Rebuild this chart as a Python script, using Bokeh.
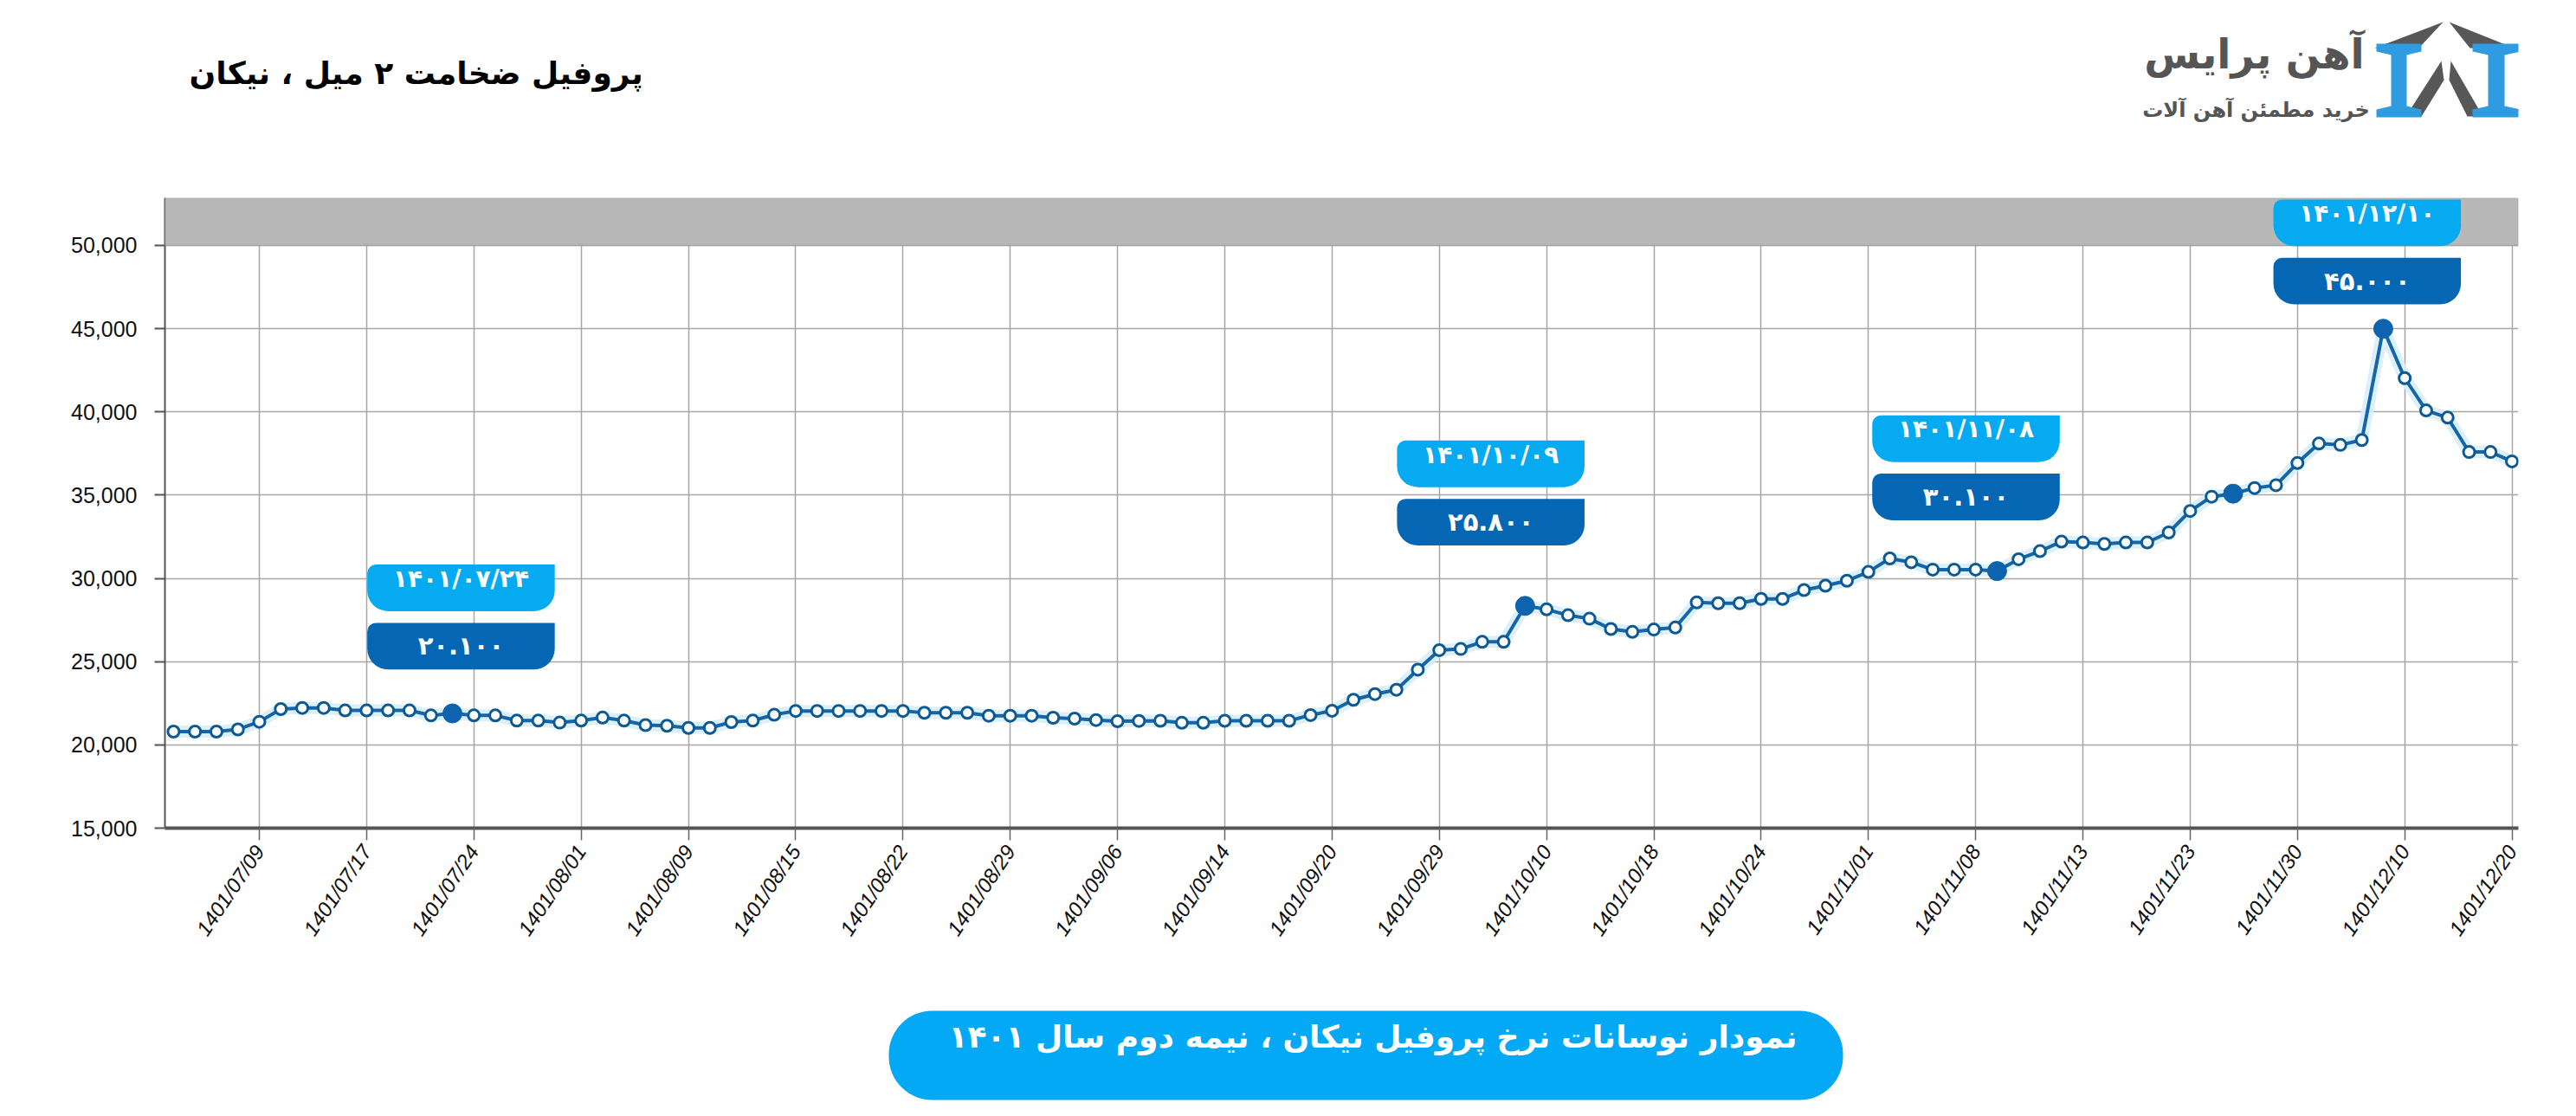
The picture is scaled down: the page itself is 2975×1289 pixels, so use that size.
import math
from bokeh.plotting import figure
from bokeh.models import ColumnDataSource, FixedTicker, Range1d, BoxAnnotation, NumeralTickFormatter
from bokeh.layouts import column
from bokeh.core.properties import value
from bokeh.embed import file_html
from bokeh.resources import INLINE

# ---------------- data ----------------
title_text = "پروفیل ضخامت ۲ میل ، نیکان"
brand_name = "آهن پرایس"
brand_tagline = "خرید مطمئن آهن آلات"
caption_text = "نمودار نوسانات نرخ پروفیل نیکان ، نیمه دوم سال ۱۴۰۱"

tick_labels = [
    "1401/07/09", "1401/07/17", "1401/07/24", "1401/08/01", "1401/08/09", "1401/08/15",
    "1401/08/22", "1401/08/29", "1401/09/06", "1401/09/14", "1401/09/20", "1401/09/29",
    "1401/10/10", "1401/10/18", "1401/10/24", "1401/11/01", "1401/11/08", "1401/11/13",
    "1401/11/23", "1401/11/30", "1401/12/10", "1401/12/20",
]

prices = [
    20800, 20800, 20800, 20930, 21390, 22150, 22220, 22220, 22070, 22070,
    22070, 22070, 21770, 21890, 21770, 21770, 21460, 21460, 21340, 21460,
    21640, 21460, 21190, 21150, 21020, 21020, 21370, 21460, 21810, 22040,
    22040, 22040, 22040, 22040, 22040, 21930, 21930, 21930, 21750, 21750,
    21750, 21630, 21580, 21490, 21420, 21440, 21450, 21330, 21330, 21450,
    21450, 21450, 21450, 21790, 22050, 22710, 23050, 23310, 24520, 25690,
    25760, 26190, 26190, 28350, 28140, 27790, 27580, 26960, 26790, 26930,
    27050, 28560, 28510, 28510, 28770, 28770, 29300, 29560, 29860, 30390,
    31200, 30970, 30530, 30530, 30530, 30440, 31150, 31640, 32210, 32160,
    32070, 32160, 32160, 32760, 34050, 34910, 35090, 35430, 35600, 36930,
    38100, 38020, 38310, 45000, 42030, 40090, 39660, 37590, 37590, 37030,
]

highlight_idx = [13, 63, 85, 96, 103]
callout_idx = [13, 63, 85, 103]
callout_dates = ["۱۴۰۱/۰۷/۲۴", "۱۴۰۱/۱۰/۰۹", "۱۴۰۱/۱۱/۰۸", "۱۴۰۱/۱۲/۱۰"]
callout_values = ["۲۰.۱۰۰", "۲۵.۸۰۰", "۳۰.۱۰۰", "۴۵.۰۰۰"]
y_ticks = [15000, 20000, 25000, 30000, 35000, 40000, 45000, 50000]

# ---------------- layout / style settings ----------------
W = 2959
BL, BR = 190, 51            # side borders shared by all stacked figures
FX0, FX1 = 8 + BL, 8 + W - BR   # page x of frame edges (198 .. 2916)
callout_dx = [0.4, -1.6, -1.45, -0.75]      # box centre offset from point (index units)
callout_dy = [2640, 3630, 3050, 1460]        # dark box bottom offset above point (value units)
BOX_HALF_W = 4.37
BOX_H = 2800
BOX_GAP = 700

LINE_COLOR = "#1466a8"
MARK_COLOR = "#0c5a94"
LIGHT_BLUE = "#05aaf0"
DARK_BLUE = "#0566b3"
AR_FONT = "DejaVu Sans"
NUM_FONT = "Liberation Sans"

x_idx = list(range(len(prices)))
tick_pos = [4 + 5 * i for i in range(len(tick_labels))]


def deco_figure(h):
    f = figure(width=W, height=h, x_range=Range1d(FX0, FX1), y_range=Range1d(0, h),
               output_backend="svg", toolbar_location=None, x_axis_type=None, y_axis_type=None,
               min_border_left=BL, min_border_right=BR, min_border_top=0, min_border_bottom=0)
    f.grid.visible = False
    f.outline_line_color = None
    return f


# ---------------- header ----------------
hdr = deco_figure(217)
HY = 225  # page y of header bottom


def hy(page_y):
    return HY - page_y


hdr.text(x=[226], y=[hy(92)], text=[title_text], text_font=value(AR_FONT), text_font_style="bold",
         text_font_size="36px", text_color="black", text_align="left", text_baseline="middle")
hdr.text(x=[2611], y=[hy(70)], text=[brand_name], text_font=value(AR_FONT), text_font_style="bold",
         text_font_size="47px", text_color="#555555", text_align="center", text_baseline="middle")
hdr.text(x=[2613], y=[hy(134)], text=[brand_tagline], text_font=value(AR_FONT), text_font_style="bold",
         text_font_size="24px", text_color="#555555", text_align="center", text_baseline="middle")

# logo: roof and inner struts (dark) + two I-beams (blue)
roof_xs = [[2750, 2829, 2801], [2836, 2911, 2860],
           [2786, 2827, 2830, 2804], [2838, 2875, 2857, 2836]]
roof_ys = [[63, 33, 63], [33, 63, 63], [142, 78, 100, 142], [78, 142, 142, 100]]
hdr.patches(xs=roof_xs, ys=[[hy(v) for v in r] for r in roof_ys], fill_color="#575757", line_color=None)


def ibeam(x0, x1, w0, w1, y0, y1, f):
    xs = [x0, x1, x1, w1, w1, x1, x1, x0, x0, w0, w0, x0]
    ys = [y0, y0, y0 + f, y0 + f + 4, y1 - f - 4, y1 - f, y1, y1, y1 - f, y1 - f - 4, y0 + f + 4, y0 + f]
    return xs, [hy(v) for v in ys]


b1 = ibeam(2752, 2804, 2769, 2787, 58, 143, 9)
b2 = ibeam(2863, 2919, 2881, 2900, 58, 143, 9)
hdr.patches(xs=[b1[0], b2[0]], ys=[b1[1], b2[1]], fill_color="#2f9be0", line_color=None)

# ---------------- main chart ----------------
p = figure(width=W, height=925, x_range=Range1d(-0.4, 109.3), y_range=Range1d(15000, 52860),
           output_backend="svg", toolbar_location=None,
           min_border_left=BL, min_border_right=BR, min_border_top=11, min_border_bottom=186)
p.outline_line_color = None

p.xaxis.ticker = FixedTicker(ticks=tick_pos)
p.xaxis.major_label_overrides = {t: lab for t, lab in zip(tick_pos, tick_labels)}
p.xaxis.major_label_orientation = math.radians(56)
p.xaxis.major_label_text_font = NUM_FONT
p.xaxis.major_label_text_font_style = "italic"
p.xaxis.major_label_text_font_size = "24px"
p.xaxis.major_label_text_color = "#111111"
p.xaxis.major_label_standoff = 8
p.xaxis.major_tick_out = 14
p.xaxis.major_tick_in = 0
p.xaxis.major_tick_line_color = "#666666"
p.xaxis.major_tick_line_width = 1.5
p.xaxis.minor_tick_line_color = None
p.xaxis.axis_line_color = "#555555"
p.xaxis.axis_line_width = 4

p.yaxis.ticker = FixedTicker(ticks=y_ticks)
p.yaxis.formatter = NumeralTickFormatter(format="0,0")
p.yaxis.major_label_text_font = NUM_FONT
p.yaxis.major_label_text_font_size = "25px"
p.yaxis.major_label_text_color = "#111111"
p.yaxis.major_label_standoff = 20
p.yaxis.major_tick_out = 12
p.yaxis.major_tick_in = 0
p.yaxis.major_tick_line_color = "#555555"
p.yaxis.major_tick_line_width = 2
p.yaxis.minor_tick_line_color = None
p.yaxis.axis_line_color = "#555555"
p.yaxis.axis_line_width = 2

p.grid.grid_line_color = "#a6a6a6"
p.grid.grid_line_width = 1.5

# grey header band above 50,000
p.add_layout(BoxAnnotation(bottom=50000, fill_color="#b8b8b8", fill_alpha=1,
                           line_color="#8a8a8a", line_width=2))

src = ColumnDataSource(dict(x=x_idx, y=prices))
p.line("x", "y", source=src, line_color="#d8eefc", line_width=14, line_alpha=0.9)
p.line("x", "y", source=src, line_color=LINE_COLOR, line_width=4)
p.scatter("x", "y", source=src, size=13, fill_color="white", line_color=MARK_COLOR, line_width=3)

hsrc = ColumnDataSource(dict(x=highlight_idx, y=[prices[i] for i in highlight_idx]))
p.scatter("x", "y", source=hsrc, size=22, fill_color="#0d63ad", line_color="#0d63ad")

# callouts
dark_txt_x, dark_txt_y, light_txt_x, light_txt_y = [], [], [], []
for i, idx in enumerate(callout_idx):
    cx = idx + callout_dx[i]
    d_bot = prices[idx] + callout_dy[i]
    d_top = d_bot + BOX_H
    l_bot = d_top + BOX_GAP
    l_top = l_bot + BOX_H
    p.add_layout(BoxAnnotation(left=cx - BOX_HALF_W, right=cx + BOX_HALF_W, bottom=l_bot, top=l_top,
                               fill_color=LIGHT_BLUE, fill_alpha=1, line_alpha=0,
                               border_radius=(10, 0, 24, 24)))
    p.add_layout(BoxAnnotation(left=cx - BOX_HALF_W, right=cx + BOX_HALF_W, bottom=d_bot, top=d_top,
                               fill_color=DARK_BLUE, fill_alpha=1, line_alpha=0,
                               border_radius=(10, 0, 24, 24)))
    dark_txt_x.append(cx)
    dark_txt_y.append((d_bot + d_top) / 2)
    light_txt_x.append(cx)
    light_txt_y.append(l_bot + 0.7 * BOX_H)

r1 = p.text(x=light_txt_x, y=light_txt_y, text=callout_dates, text_font=value(AR_FONT),
            text_font_style="bold", text_font_size="28px", text_color="white",
            text_align="center", text_baseline="middle")
r2 = p.text(x=dark_txt_x, y=dark_txt_y, text=callout_values, text_font=value(AR_FONT),
            text_font_style="bold", text_font_size="29px", text_color="white",
            text_align="center", text_baseline="middle")
r1.level = "overlay"
r2.level = "overlay"

# ---------------- caption ----------------
cap = deco_figure(131)
CY = 1281
cap.add_layout(BoxAnnotation(left=1034, right=2136, bottom=CY - 1278, top=CY - 1175,
                             fill_color="#03a9f4", fill_alpha=1, line_alpha=0, border_radius=50))
ct = cap.text(x=[1593], y=[CY - 1205], text=[caption_text], text_font=value(AR_FONT),
              text_font_style="bold", text_font_size="36px", text_color="white",
              text_align="center", text_baseline="middle")
ct.level = "overlay"

layout = column(hdr, p, cap, spacing=0)
open("out.html", "w").write(file_html(layout, INLINE))
